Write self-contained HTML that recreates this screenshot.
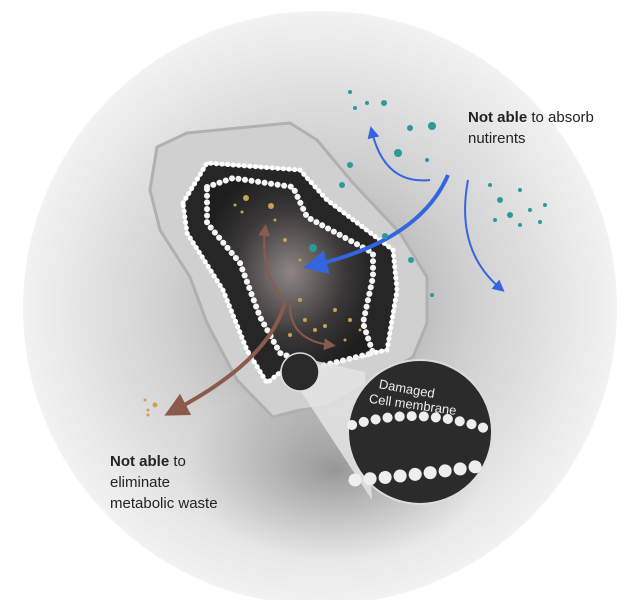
<!DOCTYPE html>
<html><head><style>
body{margin:0;width:640px;height:600px;background:#fff;overflow:hidden;font-family:"Liberation Sans",sans-serif}
.t{position:absolute;font-size:15px;color:#222;line-height:21px}
</style></head><body>
<svg width="640" height="600" style="position:absolute;left:0;top:0">
<defs>
<radialGradient id="bg" cx="0.5" cy="0.5" r="0.5">
<stop offset="0" stop-color="#9a9a9a"/><stop offset="0.5" stop-color="#cfcfcf"/><stop offset="1" stop-color="#f2f2f2"/>
</radialGradient>
<radialGradient id="dk" cx="0.5" cy="0.5" r="0.5">
<stop offset="0" stop-color="#707070" stop-opacity="0.6"/><stop offset="1" stop-color="#909090" stop-opacity="0"/>
</radialGradient>
<radialGradient id="in" cx="0.5" cy="0.5" r="0.55">
<stop offset="0" stop-color="#8e8684"/><stop offset="0.6" stop-color="#3a3838"/><stop offset="1" stop-color="#1e1e1e"/>
</radialGradient>
<marker id="ab" markerWidth="6" markerHeight="6" refX="3" refY="3" orient="auto"><path d="M0,0 L6,3 L0,6Z" fill="#3465e0"/></marker>
<marker id="ar" markerWidth="6" markerHeight="6" refX="3" refY="3" orient="auto"><path d="M0,0 L6,3 L0,6Z" fill="#8a5a4c"/></marker>
</defs>
<circle cx="320" cy="308" r="297" fill="url(#bg)"/>
<ellipse cx="335" cy="470" rx="150" ry="90" fill="url(#dk)"/>
<path d="M157,147 L187,133 L290,123 L317,140 L353,183 L400,233 L427,277 L427,323 L413,357 L373,380 L327,407 L300,410 L273,417 L237,380 L207,323 L190,277 L160,230 L150,190Z" fill="#d0d0d0" stroke="#b0b0b0" stroke-width="3" stroke-linejoin="round"/>
<path d="M183,203 L207,163 L300,170 L327,200 L393,250 L397,290 L387,350 L327,363 L283,370 L267,383 L247,350 L223,290 L187,233Z" fill="#262626" stroke="#ddd" stroke-width="3" stroke-linejoin="round"/>
<path d="M183,203 L207,163 L300,170 L327,200 L393,250 L397,290 L387,350 L327,363 L283,370 L267,383 L247,350 L223,290 L187,233Z" fill="none" stroke="#fff" stroke-width="5" stroke-dasharray="0.1 5.5" stroke-linecap="round" stroke-linejoin="round"/>
<path d="M207,187 L233,178 L293,187 L307,217 L373,253 L373,277 L363,323 L373,353 L317,367 L280,353 L260,317 L240,263 L207,223Z" fill="url(#in)" stroke="#f5f5f5" stroke-width="6" stroke-dasharray="0.1 6.5" stroke-linecap="round" stroke-linejoin="round"/>
<path d="M290,355 L365,372 L372,500 L300,390Z" fill="#e4e4e4" opacity="0.85"/>
<circle cx="300" cy="372" r="19" fill="#2a2a2a" stroke="#ddd" stroke-width="1.5"/>
<circle cx="420" cy="432" r="72" fill="#2b2b2b" stroke="#ddd" stroke-width="2"/>
<path d="M352,425 Q420,405 490,430" stroke="#eee" stroke-width="10" stroke-dasharray="0.1 12" stroke-linecap="round" fill="none"/>
<path d="M355,480 Q420,475 488,465" stroke="#eee" stroke-width="13" stroke-dasharray="0.1 15" stroke-linecap="round" fill="none"/>
<text x="378" y="392" font-size="13" fill="#eee" transform="rotate(10 400 392)" font-family="Liberation Sans">Damaged</text>
<text x="368" y="410" font-size="13" fill="#eee" transform="rotate(8 420 410)" font-family="Liberation Sans">Cell membrane</text>
<path d="M448,175 Q420,240 315,265" stroke="#3465e0" stroke-width="4" fill="none" marker-end="url(#ab)"/>
<path d="M430,180 Q385,185 372,132" stroke="#3465e0" stroke-width="2" fill="none" marker-end="url(#ab)"/>
<path d="M468,180 Q455,250 500,288" stroke="#3465e0" stroke-width="2" fill="none" marker-end="url(#ab)"/>
<path d="M283,300 Q260,270 265,230" stroke="#8a5a4c" stroke-width="2" fill="none" marker-end="url(#ar)"/>
<path d="M290,305 Q290,340 330,345" stroke="#8a5a4c" stroke-width="2" fill="none" marker-end="url(#ar)"/>
<path d="M285,302 Q270,360 175,410" stroke="#8a5a4c" stroke-width="4" fill="none" marker-end="url(#ar)"/>
<g fill="#2a9a9a">
<circle cx="350" cy="92" r="2"/><circle cx="367" cy="103" r="2"/><circle cx="384" cy="103" r="3"/><circle cx="410" cy="128" r="3"/><circle cx="432" cy="126" r="4"/><circle cx="398" cy="153" r="4"/><circle cx="427" cy="160" r="2"/><circle cx="350" cy="165" r="3"/><circle cx="385" cy="236" r="3"/><circle cx="411" cy="260" r="3"/><circle cx="432" cy="295" r="2"/><circle cx="313" cy="248" r="4"/>
<circle cx="490" cy="185" r="2"/><circle cx="500" cy="200" r="3"/><circle cx="520" cy="190" r="2"/><circle cx="510" cy="215" r="3"/><circle cx="530" cy="210" r="2"/><circle cx="545" cy="205" r="2"/><circle cx="520" cy="225" r="2"/><circle cx="495" cy="220" r="2"/><circle cx="540" cy="222" r="2"/><circle cx="355" cy="108" r="2"/><circle cx="342" cy="185" r="3"/>
</g>
<g fill="#c9a24e">
<circle cx="246" cy="198" r="3"/><circle cx="271" cy="206" r="3"/><circle cx="235" cy="205" r="1.5"/><circle cx="242" cy="212" r="1.5"/><circle cx="275" cy="220" r="1.5"/><circle cx="285" cy="240" r="2"/><circle cx="300" cy="260" r="1.5"/><circle cx="300" cy="300" r="2"/><circle cx="305" cy="320" r="2"/><circle cx="315" cy="330" r="2"/><circle cx="335" cy="310" r="2"/><circle cx="350" cy="320" r="2"/><circle cx="345" cy="340" r="1.5"/><circle cx="360" cy="330" r="1.5"/><circle cx="290" cy="335" r="2"/><circle cx="325" cy="326" r="2"/><circle cx="155" cy="405" r="2.5"/><circle cx="148" cy="410" r="1.5"/><circle cx="145" cy="400" r="1.5"/><circle cx="148" cy="415" r="1.5"/>
</g>
</svg>
<div class="t" style="left:468px;top:107px"><b>Not able</b> to absorb<br>nutirents</div>
<div class="t" style="left:110px;top:451px"><b>Not able</b> to<br>eliminate<br>metabolic waste</div>
</body></html>
